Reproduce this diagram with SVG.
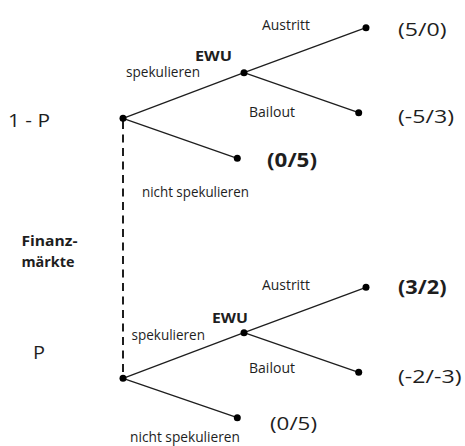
<svg xmlns="http://www.w3.org/2000/svg" width="465" height="446" viewBox="0 0 465 446">
  <style>
    text { font-family: "Open Sans", "Liberation Sans", sans-serif; fill: #1e1e1e; }
    .s { font-size: 14px; }
    .b { font-size: 14.5px; font-weight: bold; }
    .l { font-size: 19px; }
    .lb { font-size: 19px; font-weight: bold; }
    .edge { stroke: #1e1e1e; stroke-width: 1.3; fill: none; }
    .dash { stroke: #1e1e1e; stroke-width: 2; stroke-dasharray: 8 5.5; fill: none; }
    .dot { fill: #000; }
  </style>
  <rect width="465" height="446" fill="#fff"/>

  <g id="connectors">
    <line class="dash" x1="123" y1="121" x2="123" y2="378"/>
    <line class="edge" x1="123" y1="118.3" x2="244" y2="72.7"/>
    <line class="edge" x1="244" y1="72.7" x2="366" y2="27.7"/>
    <line class="edge" x1="244" y1="72.7" x2="358.7" y2="112.7"/>
    <line class="edge" x1="123" y1="118.3" x2="237.3" y2="158.3"/>
    <line class="edge" x1="123" y1="378.3" x2="244" y2="332.7"/>
    <line class="edge" x1="244" y1="332.7" x2="366" y2="287.3"/>
    <line class="edge" x1="244" y1="332.7" x2="358.7" y2="372.3"/>
    <line class="edge" x1="123" y1="378.3" x2="237.3" y2="417.7"/>
  </g>

  <g id="labels-left">
    <text class="l" x="8" y="126.7" textLength="42" lengthAdjust="spacingAndGlyphs">1 - P</text>
    <text class="b" x="21.5" y="245.5" textLength="56" lengthAdjust="spacingAndGlyphs">Finanz-</text>
    <text class="b" x="21.5" y="266.5" textLength="53" lengthAdjust="spacingAndGlyphs">märkte</text>
    <text class="l" x="33" y="359" textLength="12" lengthAdjust="spacingAndGlyphs">P</text>
  </g>

  <g id="top-root">
    <circle class="dot" cx="123" cy="118.3" r="3.5"/>
  </g>
  <g id="top-ewu">
    <circle class="dot" cx="244" cy="72.7" r="3.5"/>
    <text class="b" x="195" y="61" textLength="37" lengthAdjust="spacingAndGlyphs">EWU</text>
    <text class="s" x="126" y="77" textLength="74" lengthAdjust="spacingAndGlyphs">spekulieren</text>
  </g>
  <g id="top-austritt">
    <circle class="dot" cx="366" cy="27.7" r="3.5"/>
    <text class="s" x="262" y="30" textLength="48" lengthAdjust="spacingAndGlyphs">Austritt</text>
    <text class="l" x="398" y="36" textLength="48.5" lengthAdjust="spacingAndGlyphs">(5/0)</text>
  </g>
  <g id="top-bailout">
    <circle class="dot" cx="358.7" cy="112.7" r="3.5"/>
    <text class="s" x="249" y="116.7" textLength="46" lengthAdjust="spacingAndGlyphs">Bailout</text>
    <text class="l" x="398" y="122.7" textLength="56" lengthAdjust="spacingAndGlyphs">(-5/3)</text>
  </g>
  <g id="top-nicht">
    <circle class="dot" cx="237.3" cy="158.3" r="3.5"/>
    <text class="lb" x="267" y="166.7" textLength="50" lengthAdjust="spacingAndGlyphs">(0/5)</text>
    <text class="s" x="142" y="197" textLength="107" lengthAdjust="spacingAndGlyphs">nicht spekulieren</text>
  </g>

  <g id="bottom-root">
    <circle class="dot" cx="123" cy="378.3" r="3.5"/>
  </g>
  <g id="bottom-ewu">
    <circle class="dot" cx="244" cy="332.7" r="3.5"/>
    <text class="b" x="212" y="323" textLength="36" lengthAdjust="spacingAndGlyphs">EWU</text>
    <text class="s" x="131.5" y="340" textLength="73.5" lengthAdjust="spacingAndGlyphs">spekulieren</text>
  </g>
  <g id="bottom-austritt">
    <circle class="dot" cx="366" cy="287.3" r="3.5"/>
    <text class="s" x="262" y="290" textLength="48" lengthAdjust="spacingAndGlyphs">Austritt</text>
    <text class="lb" x="398" y="294" textLength="48.5" lengthAdjust="spacingAndGlyphs">(3/2)</text>
  </g>
  <g id="bottom-bailout">
    <circle class="dot" cx="358.7" cy="372.3" r="3.5"/>
    <text class="s" x="249" y="373" textLength="46" lengthAdjust="spacingAndGlyphs">Bailout</text>
    <text class="l" x="398" y="382.7" textLength="63.5" lengthAdjust="spacingAndGlyphs">(-2/-3)</text>
  </g>
  <g id="bottom-nicht">
    <circle class="dot" cx="237.3" cy="417.7" r="3.5"/>
    <text class="l" x="270" y="429.5" textLength="47" lengthAdjust="spacingAndGlyphs">(0/5)</text>
    <text class="s" x="130" y="441.5" textLength="110" lengthAdjust="spacingAndGlyphs">nicht spekulieren</text>
  </g>
</svg>
